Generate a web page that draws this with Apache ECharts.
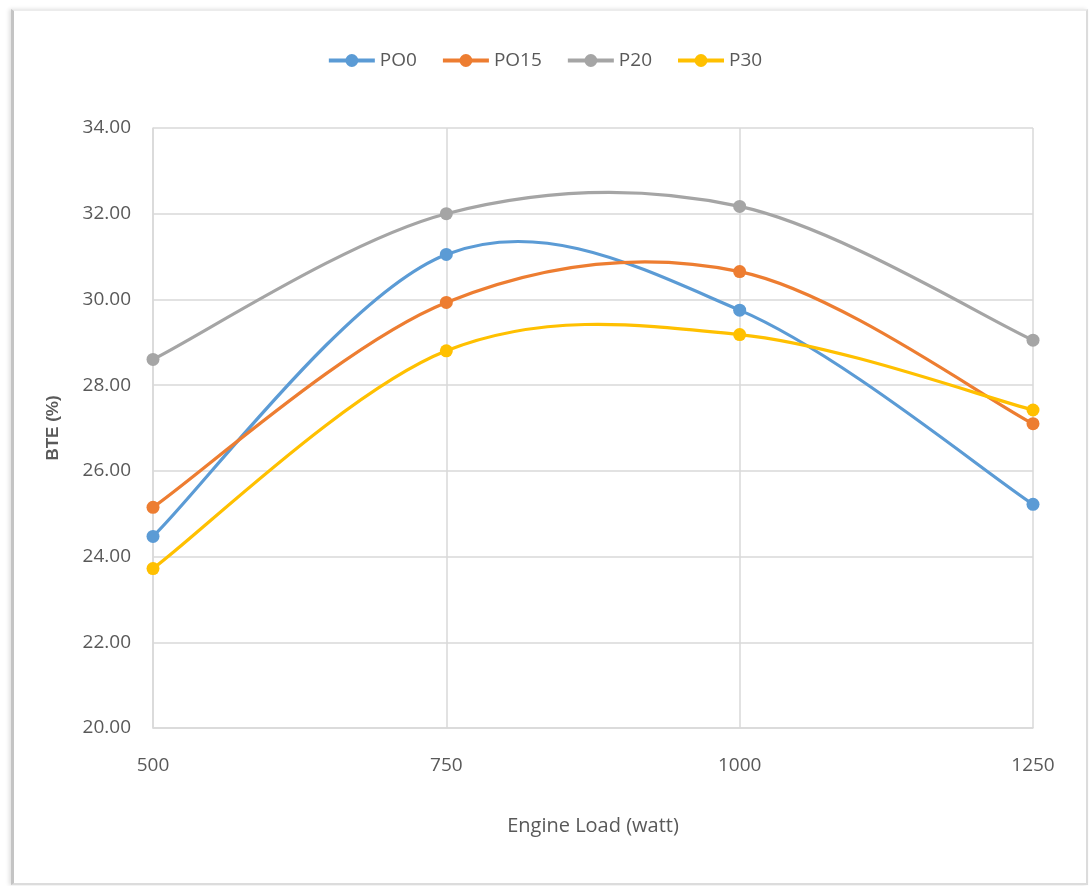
<!DOCTYPE html>
<html>
<head>
<meta charset="utf-8">
<script src="https://cdn.jsdelivr.net/npm/echarts@6/dist/echarts.min.js"></script>
<style>
  html, body { margin: 0; padding: 0; background: #fff; }
  #frame { position: absolute; left: 11px; top: 9px; width: 1077px; height: 876px;
           border-left: 3px solid #c4c4c4; border-top: 2px solid #ececec;
           border-right: 2px solid #dcdcdc; border-bottom: 2px solid #dcdcdc;
           box-shadow: -2px 0 4px rgba(0,0,0,0.12); box-sizing: border-box; }
  #chart { position: absolute; left: 0; top: 0; width: 1089px; height: 886px; }
</style>
</head>
<body>
<div id="frame"></div>
<div id="chart"></div>
<script>
// Engine load levels (watt)
const loads = [500, 750, 1000, 1250];
// Brake thermal efficiency (%) per blend
const po0  = [24.47, 31.05, 29.75, 25.22];
const po15 = [25.15, 29.93, 30.65, 27.10];
const p20  = [28.60, 32.00, 32.17, 29.05];
const p30  = [23.72, 28.80, 29.18, 27.42];
const seriesNames = ['PO0', 'PO15', 'P20', 'P30'];
const seriesColors = ['#5B9BD5', '#ED7D31', '#A5A5A5', '#FFC000'];
const yTicks = [20, 22, 24, 26, 28, 30, 32, 34];

const chart = echarts.init(document.getElementById('chart'));
const textColor = '#595959';
const font = '"Open Sans", sans-serif';

// Smoothed curve through the projected points (cardinal spline, 1/6 tangents)
function curveSeries(name, vals, color) {
  return {
    name: name,
    type: 'custom',
    silent: true,
    z: 2,
    itemStyle: { color: color },
    data: loads.map((x, i) => [x, vals[i]]),
    renderItem: function (params, api) {
      if (params.dataIndex !== 0) return null;
      const pts = loads.map((x, i) => api.coord([x, vals[i]]));
      let d = 'M' + pts[0][0] + ',' + pts[0][1];
      for (let i = 0; i < pts.length - 1; i++) {
        const p0 = pts[Math.max(i - 1, 0)], p1 = pts[i], p2 = pts[i + 1],
              p3 = pts[Math.min(i + 2, pts.length - 1)];
        const c1 = [p1[0] + (p2[0] - p0[0]) / 6, p1[1] + (p2[1] - p0[1]) / 6];
        const c2 = [p2[0] - (p3[0] - p1[0]) / 6, p2[1] - (p3[1] - p1[1]) / 6];
        d += 'C' + c1[0] + ',' + c1[1] + ' ' + c2[0] + ',' + c2[1] + ' ' + p2[0] + ',' + p2[1];
      }
      return {
        type: 'path',
        shape: { pathData: d },
        style: { fill: 'none', stroke: color, lineWidth: 3.2, lineCap: 'round', lineJoin: 'round' }
      };
    }
  };
}

// Markers (line itself hidden; the curve is drawn by the custom series)
function markerSeries(name, vals, color) {
  return {
    name: name,
    type: 'line',
    z: 3,
    data: loads.map((x, i) => [x, vals[i]]),
    symbol: 'circle',
    symbolSize: 13,
    itemStyle: { color: color },
    lineStyle: { color: color, width: 3, opacity: 0 }
  };
}

const markers = [po0, po15, p20, p30].map((vals, i) => markerSeries(seriesNames[i], vals, seriesColors[i]));
const curves = [po0, po15, p20, p30].map((vals, i) => curveSeries(seriesNames[i], vals, seriesColors[i]));

chart.setOption({
  animation: false,
  textStyle: { fontFamily: font },
  legend: {
    top: 46,
    left: 'center',
    itemWidth: 46,
    itemHeight: 16,
    itemGap: 24,
    lineStyle: { opacity: 1, width: 4 },
    textStyle: { color: textColor, fontSize: 19, fontFamily: font },
    data: seriesNames.map(n => ({ name: n }))
  },
  grid: { left: 153, right: 56, top: 128, bottom: 158, containLabel: false },
  xAxis: {
    type: 'value',
    min: loads[0], max: loads[loads.length - 1], interval: 250,
    name: 'Engine Load (watt)',
    nameLocation: 'middle',
    nameGap: 88,
    nameTextStyle: { color: textColor, fontSize: 20, fontFamily: font },
    axisLine: { show: true, lineStyle: { color: '#d9d9d9', width: 1.5 } },
    axisTick: { show: false },
    axisLabel: { color: textColor, fontSize: 19, margin: 28, formatter: v => String(v) },
    splitLine: { show: true, lineStyle: { color: '#d9d9d9', width: 1.5 } }
  },
  yAxis: {
    type: 'value',
    min: yTicks[0], max: yTicks[yTicks.length - 1], interval: 2,
    name: 'BTE (%)',
    nameLocation: 'middle',
    nameGap: 91,
    nameRotate: 90,
    nameTextStyle: { color: textColor, fontSize: 17, fontWeight: 'bold', fontFamily: 'Liberation Sans, sans-serif' },
    axisLine: { show: true, lineStyle: { color: '#d9d9d9', width: 1.5 } },
    axisTick: { show: false },
    axisLabel: { color: textColor, fontSize: 19, margin: 22, formatter: v => v.toFixed(2) },
    splitLine: { show: true, lineStyle: { color: '#d9d9d9', width: 1.5 } }
  },
  series: markers.concat(curves)
});
</script>
</body>
</html>
